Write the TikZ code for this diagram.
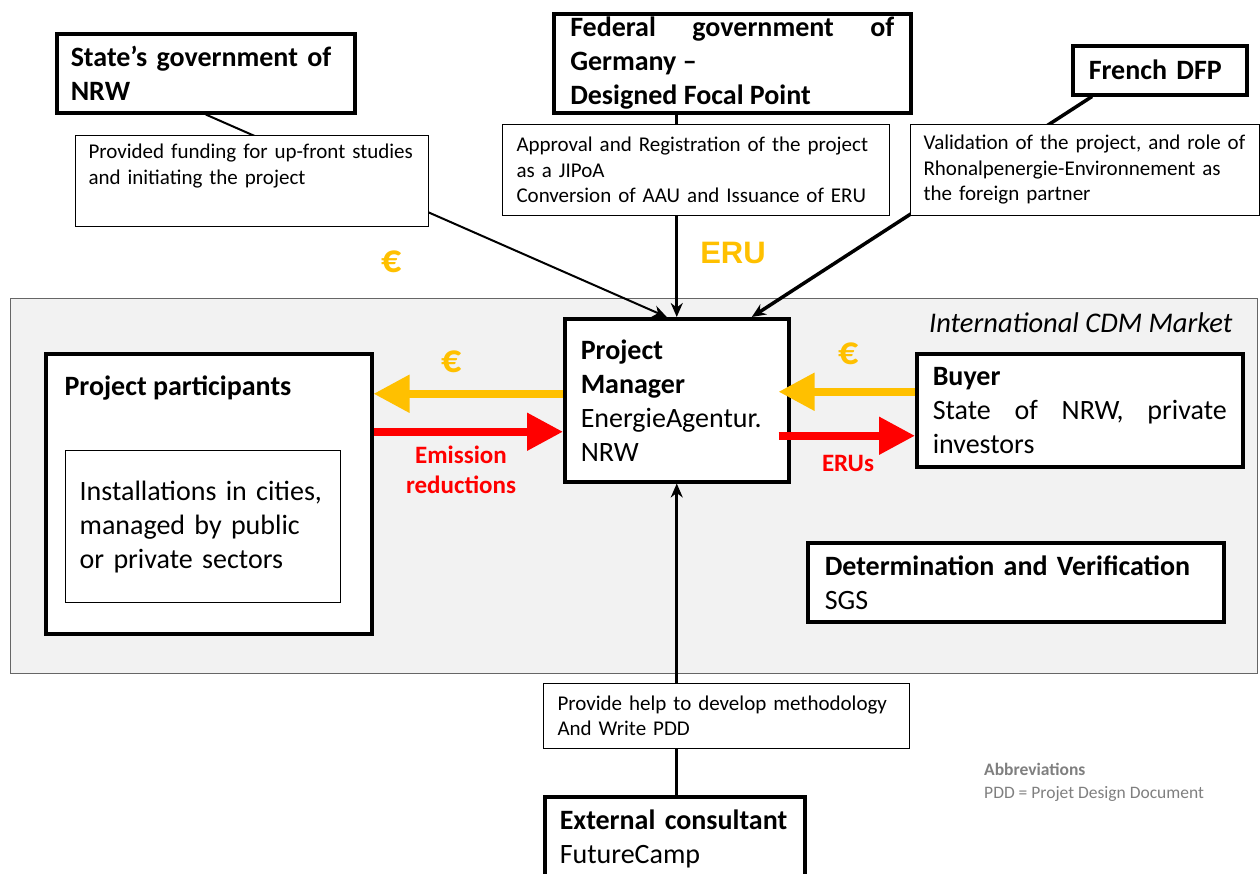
\documentclass[tikz,border=0pt]{standalone}
\usepackage{fontspec}
\setmainfont{Carlito}
\newfontfamily\arialfont{Liberation Sans}
\usetikzlibrary{arrows.meta}
\definecolor{euroyellow}{HTML}{FFC000}
\definecolor{marketgray}{HTML}{F2F2F2}
\definecolor{abbrgray}{HTML}{7F7F7F}
\hyphenpenalty=10000
\exhyphenpenalty=10000

\begin{document}
\begin{tikzpicture}[x=1pt,y=-1pt,
    big/.style={font=\fontsize{28}{34}\selectfont},
    heading/.style={font=\fontsize{28}{34}\selectfont\bfseries},
    small/.style={font=\fontsize{21}{25.5}\selectfont},
    actor/.style={draw,line width=3.5pt,fill=white,anchor=north west,align=left,
      inner xsep=16pt,inner ysep=0pt,big},
    note/.style={draw,line width=1pt,fill=white,anchor=north west,align=left,
      inner xsep=14pt,inner ysep=0pt,small},
    flow/.style={line width=8pt,-{Triangle[width=36pt,length=36pt]}},
    link/.style={-{Stealth[length=14pt,width=12pt]}},
    money/.style={font=\fontsize{40}{44}\selectfont\bfseries,text=euroyellow},
    cert/.style={font=\fontsize{25}{30}\selectfont\bfseries,text=red},
  ]
  \useasboundingbox (0,0) rectangle (1260,873);
  % market area
  \node[draw=black!60,line width=0.8pt,fill=marketgray,anchor=north west,
    minimum width=1247pt,minimum height=375pt,inner sep=0pt] (market) at (10,298) {};
  \node[anchor=base east,font=\fontsize{28.5}{34}\selectfont\itshape] (marketlbl) at (1236,332) {International CDM Market};
  %
  \node[actor,text width=192pt,minimum height=163pt] (pm) at (563,317)
    {\textbf{Project\\Manager}\\EnergieAgentur.\\NRW};
  \node[actor,inner xsep=14pt,text width=270pt,minimum height=79pt] (state) at (55,32)
    {\textbf{State’s government of\\NRW}};
  \node[actor,align=justify,inner xsep=16.5pt,text width=324pt,minimum height=99pt] (fed) at (552,12)
    {\textbf{Federal government of Germany –\\Designed Focal Point}};
  \node[actor,inner xsep=16pt,text width=142pt,minimum height=49pt] (french) at (1071,44)
    {\textbf{French DFP}};
  \node[actor,minimum width=326pt,minimum height=280pt,inner sep=0pt] (ppart) at (44,352) {};
  \node[anchor=base west,heading] (pparttitle) at (61,395) {Project participants};
  \node[draw,line width=1.3pt,fill=white,anchor=north west,align=left,inner xsep=14pt,
    text width=247pt,minimum height=152pt,big] (inst) at (65,450)
    {Installations in cities,\\managed by public\\or private sectors};
  \node[actor,align=justify,inner xsep=16pt,text width=294pt,minimum height=113pt] (buyer) at (915,352)
    {\textbf{Buyer}\\State of NRW, private investors};
  \node[actor,inner xsep=17pt,text width=382pt,minimum height=79pt] (verif) at (806,541)
    {\textbf{Determination and Verification}\\SGS};
  \node[actor,inner xsep=15pt,text width=230pt,minimum height=85pt] (consult) at (543,795)
    {\textbf{External consultant}\\FutureCamp};
  % links to the project manager
  \draw[link,line width=2pt] (state.south) -- ([xshift=-10pt]pm.north);
  \draw[link,line width=3pt] (pm.north |- fed.south) -- (pm.north);
  \draw[link,line width=3.5pt] ([xshift=21pt]french.south west) -- ([xshift=75pt]pm.north);
  \draw[link,line width=3pt] (pm.south |- consult.north) -- (pm.south);
  % notes on the links
  \node[note,inner xsep=13pt,text width=327pt,minimum height=91pt] (fund) at (75,135)
    {Provided funding for up-front studies\\and initiating the project\\\strut};
  \node[note,text width=359pt,minimum height=91pt] (approv) at (502,124)
    {Approval and Registration of the project\\as a JIPoA\\Conversion of AAU and Issuance of ERU};
  \node[note,inner xsep=13pt,text width=323pt,minimum height=91pt] (valid) at (910,124)
    {Validation of the project, and role of\\Rhonalpenergie-Environnement as\\the foreign partner};
  \node[note,text width=338pt,minimum height=65pt] (method) at (543,683)
    {Provide help to develop methodology\\And Write PDD};
  % money and certificates
  \coordinate (payl) at ([yshift=6.5pt]pm.west);
  \coordinate (redl) at ([yshift=-31.5pt]pm.west);
  \coordinate (payb) at ([yshift=18.5pt]buyer.west);
  \coordinate (redb) at ([yshift=-25.5pt]buyer.west);
  \draw[flow,euroyellow] (payl) -- (payl -| ppart.east);
  \draw[flow,red] (redl -| ppart.east) -- (redl);
  \draw[flow,euroyellow] (payb) -- ([xshift=-12pt]payb -| pm.east);
  \draw[flow,red] ([xshift=-12pt]redb -| pm.east) -- (redb);
  %
  \node[money] (eurotop) at (392,262) {€};
  \node[money] (eurol) at (452,362) {€};
  \node[money] (eurob) at (849,354) {€};
  \node[font=\fontsize{31}{37}\selectfont\arialfont\bfseries,text=euroyellow] (erutop) at (733,253) {ERU};
  \node[cert,align=center] (emis) at (461,470) {Emission\\reductions};
  \node[cert] (erus) at (848,463) {ERUs};
  % abbreviations
  \node[anchor=north west,align=left,text=abbrgray,font=\fontsize{17.5}{23}\selectfont,inner sep=0pt] (abbrev) at (984,763)
    {\textbf{Abbreviations}\\PDD = Projet Design Document};
\end{tikzpicture}
\end{document}
